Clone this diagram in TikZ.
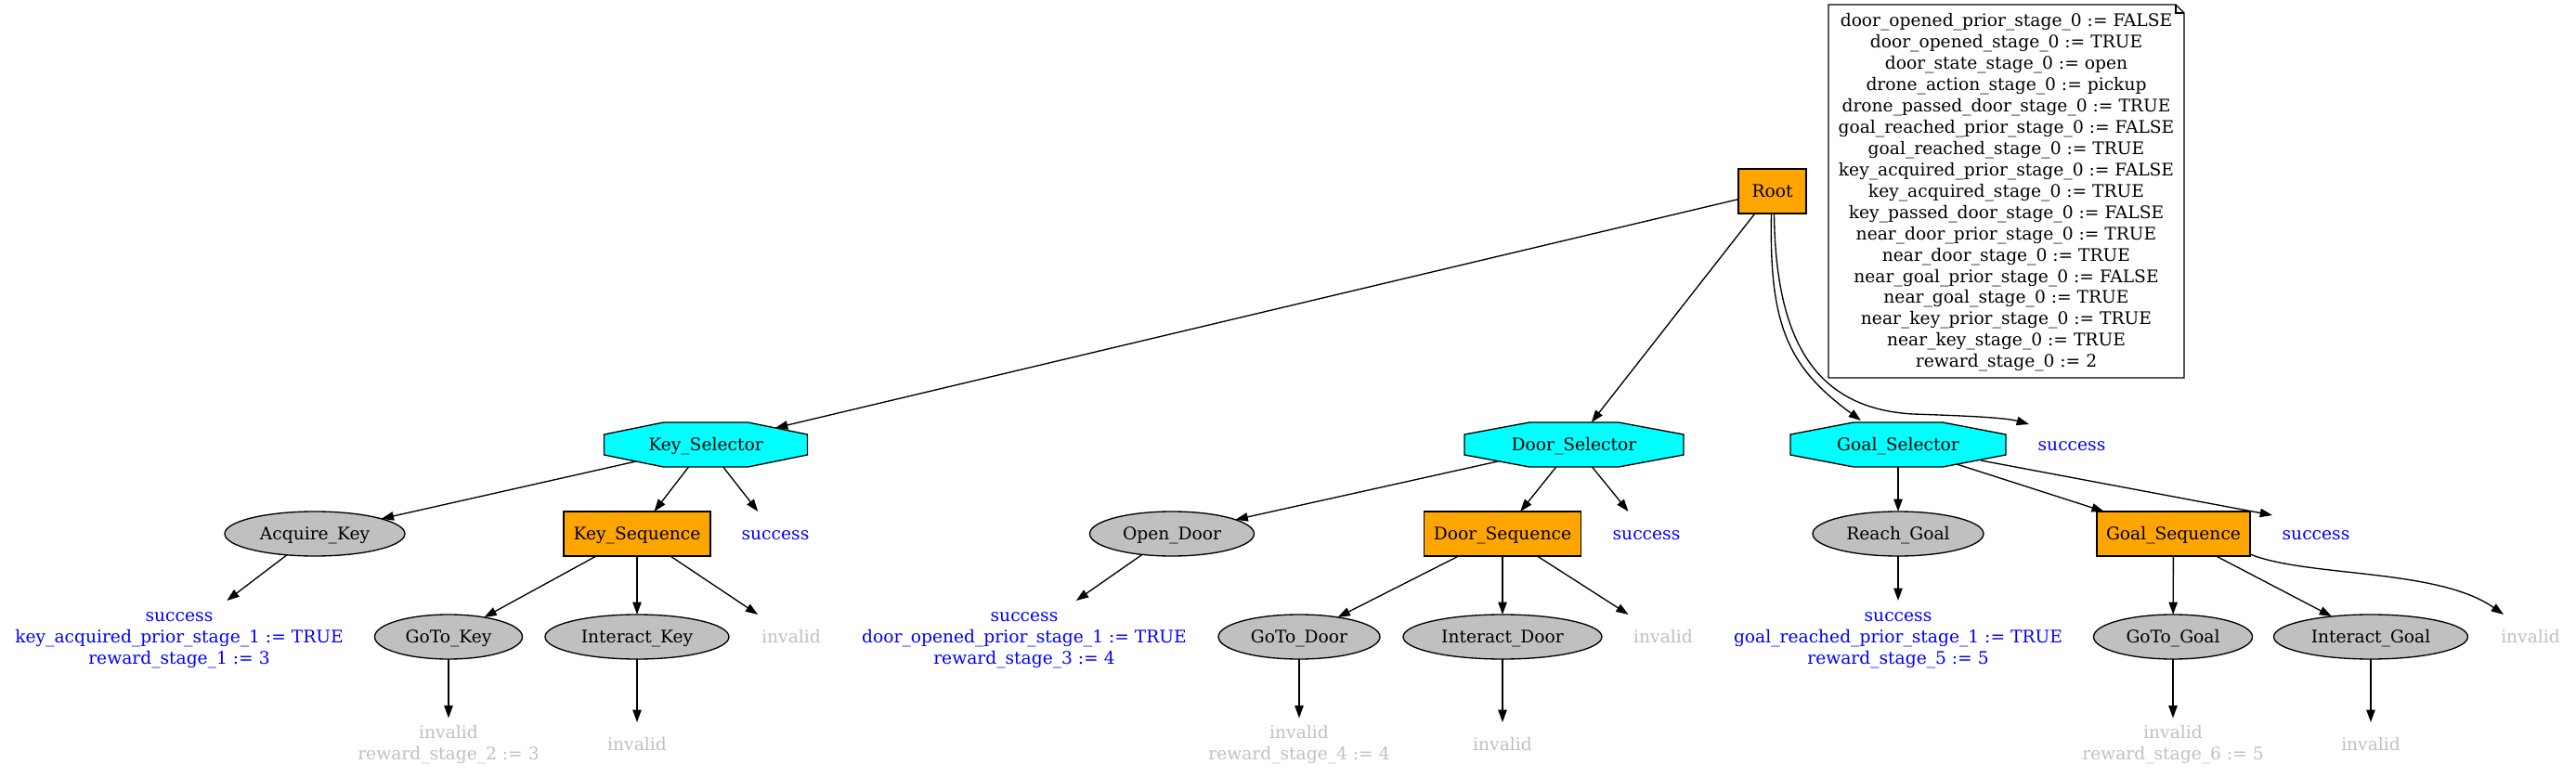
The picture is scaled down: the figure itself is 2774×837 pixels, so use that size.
\documentclass[tikz,border=0pt]{standalone}
\usepackage{fontspec}
\setmainfont{DejaVu Serif}
\usetikzlibrary{arrows.meta,shapes.geometric,calc}
\definecolor{gvorange}{RGB}{255,165,0}
\definecolor{gvcyan}{RGB}{0,255,255}
\definecolor{gvgray}{RGB}{192,192,192}
\definecolor{gvblue}{RGB}{0,0,255}
\newcommand{\gs}{\rule[-3.85pt]{0pt}{17.2pt}}
\pgfdeclarelayer{bg}
\pgfsetlayers{bg,main}
\newcommand{\gvoct}[2]{%
  \draw[line width=1pt, fill=gvcyan]
    ($(#1.west)+(0,-11)$) -- ($(#1.north west)+(#2,0)$) -- ($(#1.north east)+(-#2,0)$) --
    ($(#1.east)+(0,-11)$) -- ($(#1.east)+(0,11)$) -- ($(#1.south east)+(-#2,0)$) --
    ($(#1.south west)+(#2,0)$) -- ($(#1.west)+(0,11)$) -- cycle;}
\begin{document}
\begin{tikzpicture}[x=0.75pt,y=-0.75pt,
  every node/.style={font=\fontsize{14}{17.2}\selectfont, inner sep=2pt, outer sep=0pt, align=center},
  seqbox/.style={draw=black, line width=1pt, fill=gvorange, rectangle, minimum height=36pt},
  selbox/.style={rectangle, minimum height=36pt},
  actell/.style={draw=black, line width=1pt, fill=gvgray, ellipse, minimum height=36pt},
  oktext/.style={text=gvblue, minimum width=54pt, minimum height=36pt},
  badtext/.style={text=gvgray, minimum width=60pt, minimum height=36pt},
  arr/.style={line width=1pt, -{Triangle[length=10pt,width=7pt]}},
]
\path[use as bounding box] (0,0) rectangle (2774,837);

% row 0
\node[seqbox, minimum width=54.75pt] (root) at (1908.5,206) {\gs Root};
\node[minimum width=287.25pt, minimum height=301.5pt] (note) at (2160.5,206) {\gs door\_opened\_prior\_stage\_0 := FALSE\\\gs door\_opened\_stage\_0 := TRUE\\\gs door\_state\_stage\_0 := open\\\gs drone\_action\_stage\_0 := pickup\\\gs drone\_passed\_door\_stage\_0 := TRUE\\\gs goal\_reached\_prior\_stage\_0 := FALSE\\\gs goal\_reached\_stage\_0 := TRUE\\\gs key\_acquired\_prior\_stage\_0 := FALSE\\\gs key\_acquired\_stage\_0 := TRUE\\\gs key\_passed\_door\_stage\_0 := FALSE\\\gs near\_door\_prior\_stage\_0 := TRUE\\\gs near\_door\_stage\_0 := TRUE\\\gs near\_goal\_prior\_stage\_0 := FALSE\\\gs near\_goal\_stage\_0 := TRUE\\\gs near\_key\_prior\_stage\_0 := TRUE\\\gs near\_key\_stage\_0 := TRUE\\\gs reward\_stage\_0 := 2};
\draw[line width=1pt] (note.north west) -- ($(note.north east)+(-9,0)$) -- ($(note.north east)+(0,9)$) -- (note.south east) -- (note.south west) -- cycle;
\draw[line width=1pt] ($(note.north east)+(-9,0)$) -- ($(note.north east)+(-9,9)$) -- ($(note.north east)+(0,9)$);

% row 1
\node[selbox, minimum width=164.25pt] (ksel) at (760,479) {\gs Key\_Selector};
\node[selbox, minimum width=177pt] (dsel) at (1695,479) {\gs Door\_Selector};
\node[selbox, minimum width=174pt] (gsel) at (2044,479) {\gs Goal\_Selector};
\node[oktext] (rsucc) at (2231,479) {\gs success};
\begin{pgfonlayer}{bg}
\gvoct{ksel}{64}
\gvoct{dsel}{70}
\gvoct{gsel}{68}
\end{pgfonlayer}

% row 2
\node[actell, minimum width=145.5pt] (acq) at (339,575) {\gs Acquire\_Key};
\node[seqbox, minimum width=118.5pt] (kseq) at (686,575) {\gs Key\_Sequence};
\node[oktext] (ksucc) at (835,575) {\gs success};
\node[actell, minimum width=132.75pt] (open) at (1262,575) {\gs Open\_Door};
\node[seqbox, minimum width=126.75pt] (dseq) at (1618,575) {\gs Door\_Sequence};
\node[oktext] (dsucc) at (1773,575) {\gs success};
\node[actell, minimum width=138pt] (reach) at (2044,575) {\gs Reach\_Goal};
\node[seqbox, minimum width=123.75pt] (gseq) at (2340.5,575) {\gs Goal\_Sequence};
\node[oktext] (gsucc) at (2494,575) {\gs success};

% row 3
\node[oktext, minimum height=58.5pt] (kres) at (193,686) {\gs success\\\gs key\_acquired\_prior\_stage\_1 := TRUE\\\gs reward\_stage\_1 := 3};
\node[actell, minimum width=119.25pt] (gotok) at (483,686) {\gs GoTo\_Key};
\node[actell, minimum width=148.5pt] (intk) at (686,686) {\gs Interact\_Key};
\node[badtext] (kinv) at (852,686) {\gs invalid};
\node[oktext, minimum height=58.5pt] (dres) at (1103,686) {\gs success\\\gs door\_opened\_prior\_stage\_1 := TRUE\\\gs reward\_stage\_3 := 4};
\node[actell, minimum width=130.5pt] (gotod) at (1399,686) {\gs GoTo\_Door};
\node[actell, minimum width=160.5pt] (intd) at (1618,686) {\gs Interact\_Door};
\node[badtext] (dinv) at (1791,686) {\gs invalid};
\node[oktext, minimum height=58.5pt] (gres) at (2044,686) {\gs success\\\gs goal\_reached\_prior\_stage\_1 := TRUE\\\gs reward\_stage\_5 := 5};
\node[actell, minimum width=128.25pt] (gotog) at (2340,686) {\gs GoTo\_Goal};
\node[actell, minimum width=156.75pt] (intg) at (2553,686) {\gs Interact\_Goal};
\node[badtext] (ginv) at (2725,686) {\gs invalid};

% row 4
\node[badtext, minimum height=41.25pt] (gotokinv) at (483,801) {\gs invalid\\\gs reward\_stage\_2 := 3};
\node[badtext] (intkinv) at (686,802) {\gs invalid};
\node[badtext, minimum height=41.25pt] (gotodinv) at (1399,801) {\gs invalid\\\gs reward\_stage\_4 := 4};
\node[badtext] (intdinv) at (1618,802) {\gs invalid};
\node[badtext, minimum height=41.25pt] (gotoginv) at (2340,801) {\gs invalid\\\gs reward\_stage\_6 := 5};
\node[badtext] (intginv) at (2553,802) {\gs invalid};

% edges from root
\draw[arr] (root) -- ($(ksel.center)+(75,-18)$);
\draw[arr] (root) -- (dsel);
\draw[arr] ($(root.south)+(-1,0)$) .. controls +(-2.5,120) and +(-79,-58) .. ($(gsel.center)+(-40,-26)$);
\draw[arr] ($(root.south)+(2,0)$) .. controls +(1.5,130) and +(-110,-6) .. ($(rsucc.center)+(-171,-33)$) .. controls +(60,2) and +(-25,-7) .. ($(rsucc.center)+(-46,-22)$);

% key
\draw[arr] ($(ksel.center)+(-75,18)$) -- (acq);
\draw[arr] (ksel) -- (kseq);
\draw[arr] (ksel) -- (ksucc);
\draw[arr] (acq) -- (kres);
\draw[arr] (kseq) -- (gotok);
\draw[arr] (kseq) -- (intk);
\draw[arr] (kseq) -- (kinv);
\draw[arr] (gotok) -- (gotokinv);
\draw[arr] (intk) -- (intkinv);

% door
\draw[arr] ($(dsel.center)+(-82,18)$) -- (open);
\draw[arr] (dsel) -- (dseq);
\draw[arr] (dsel) -- (dsucc);
\draw[arr] (open) -- (dres);
\draw[arr] (dseq) -- (gotod);
\draw[arr] (dseq) -- (intd);
\draw[arr] (dseq) -- (dinv);
\draw[arr] (gotod) -- (gotodinv);
\draw[arr] (intd) -- (intdinv);

% goal
\draw[arr] (gsel) -- (reach);
\draw[arr] ($(gsel.center)+(63,21)$) -- (gseq);
\draw[arr] ($(gsel.center)+(89,17)$) -- ($(gsucc.center)+(-47,-20)$);
\draw[arr] (reach) -- (gres);
\draw[arr] (gseq) -- (gotog);
\draw[arr] (gseq) -- (intg);
\draw[arr] ($(gseq.south east)+(0,-2)$) .. controls +(62,25) and +(-71,-50) .. ($(ginv.center)+(-29,-24)$);
\draw[arr] (gotog) -- (gotoginv);
\draw[arr] (intg) -- (intginv);
\end{tikzpicture}
\end{document}
